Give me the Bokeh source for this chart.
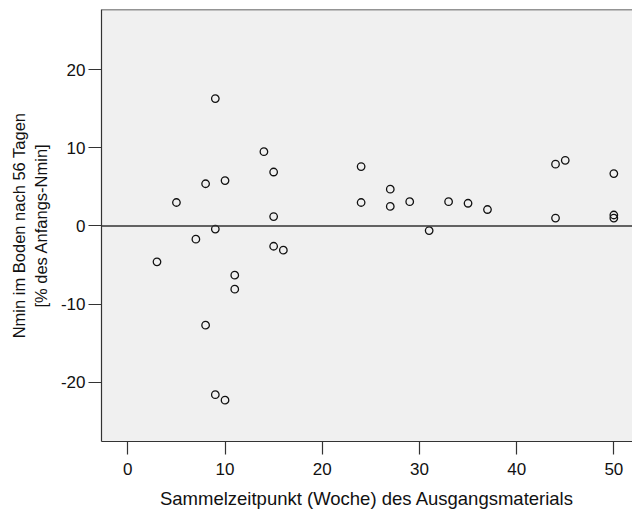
from bokeh.plotting import figure
from bokeh.models import Span, FixedTicker
from bokeh.embed import file_html
from bokeh.resources import INLINE

# Sammelzeitpunkt (Woche) und Nmin-Änderung [% des Anfangs-Nmin]
week = [3, 5, 7, 8, 8, 9, 9, 9, 10, 10, 11, 11, 14, 15, 15, 15, 16,
        24, 24, 27, 27, 29, 31, 33, 35, 37, 44, 44, 45, 50, 50, 50]
nmin = [-4.6, 3.0, -1.7, 5.4, -12.7, 16.3, -0.4, -21.6, 5.8, -22.3, -6.3, -8.1, 9.5, 6.9, 1.2, -2.6, -3.1,
        7.6, 3.0, 4.7, 2.5, 3.1, -0.6, 3.1, 2.9, 2.1, 7.9, 1.0, 8.4, 6.7, 1.4, 1.0]

x_ticks = [0, 10, 20, 30, 40, 50]
y_ticks = [-20, -10, 0, 10, 20]
y_tick_labels = {t: str(t) for t in y_ticks}

X_START, X_END = -2.71, 51.92
Y_START, Y_END = -27.59, 27.7

FONT = "Liberation Sans"
DARK = "#333333"

p = figure(width=632, height=511, x_range=(X_START, X_END), y_range=(Y_START, Y_END),
           output_backend="svg", toolbar_location=None,
           min_border_left=101, min_border_right=0, min_border_top=9, min_border_bottom=69)

p.background_fill_color = "#f0f0f0"
p.border_fill_color = "white"
p.outline_line_color = None
p.xgrid.visible = False
p.ygrid.visible = False

p.xaxis.ticker = FixedTicker(ticks=x_ticks)
p.yaxis.ticker = FixedTicker(ticks=y_ticks)
p.yaxis.major_label_overrides = y_tick_labels

for ax in (p.xaxis[0], p.yaxis[0]):
    ax.axis_line_color = DARK
    ax.axis_line_width = 1.2
    ax.major_tick_line_color = DARK
    ax.major_tick_line_width = 1.2
    ax.major_tick_out = 13
    ax.major_tick_in = 0
    ax.minor_tick_line_color = None
    ax.major_label_text_font = FONT
    ax.major_label_text_font_size = "17px"
    ax.major_label_text_color = "#111111"
    ax.axis_label_text_font = FONT
    ax.axis_label_text_font_style = "normal"
    ax.axis_label_text_color = "#111111"

p.xaxis.axis_label = "Sammelzeitpunkt (Woche) des Ausgangsmaterials"
p.yaxis.axis_label = "Nmin im Boden nach 56 Tagen\n[% des Anfangs-Nmin]"
p.xaxis.axis_label_text_font_size = "18.5px"
p.yaxis.axis_label_text_font_size = "16.5px"
p.xaxis.major_label_standoff = 8
p.yaxis.major_label_standoff = 3
p.xaxis.axis_label_standoff = 10
p.yaxis.axis_label_standoff = 8

# top border of the plot area and the zero reference line
p.add_layout(Span(location=Y_END, dimension="width", line_color=DARK, line_width=1.5))
p.add_layout(Span(location=0, dimension="width", line_color=DARK, line_width=1.5))

p.scatter(week, nmin, marker="circle", size=7.5, fill_color=None,
          line_color="#111111", line_width=1.3)

open("out.html", "w").write(file_html(p, INLINE))
